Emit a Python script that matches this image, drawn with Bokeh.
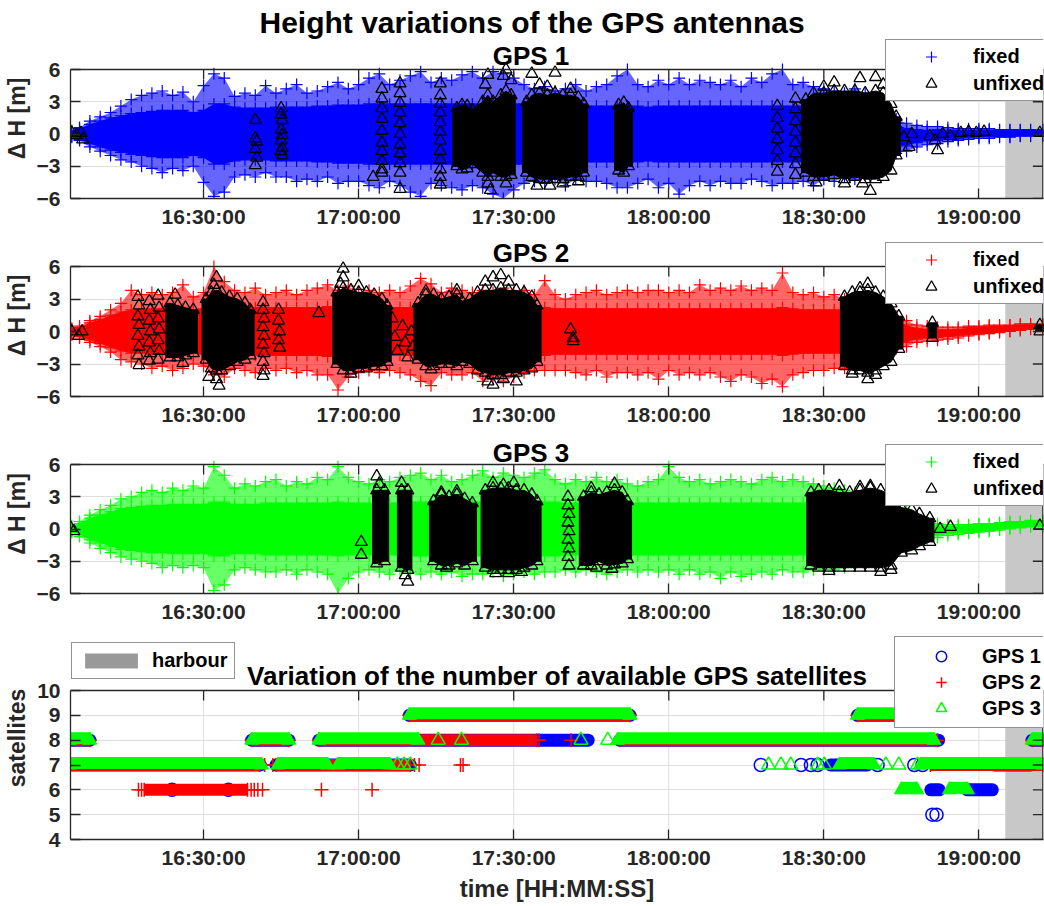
import numpy as np
from bokeh.plotting import figure
from bokeh.layouts import column
from bokeh.models import Range1d, FixedTicker, Title, Legend, LegendItem
from bokeh.core.properties import value
from bokeh.embed import file_html
from bokeh.resources import INLINE

# ---------------------------------------------------------------- data
# time axis: minutes after 16:00:00
X_START, X_END = 4.25, 192.5
HARBOUR_FROM = 185.1
TICK_MIN = [30, 60, 90, 120, 150, 180]
TICK_TXT = ["16:30:00", "17:00:00", "17:30:00", "18:00:00", "18:30:00", "19:00:00"]
H_RANGE = (-6, 6)
H_TICKS = [-6, -3, 0, 3, 6]
S_RANGE = (4, 10)
S_TICKS = [4, 5, 6, 7, 8, 9, 10]

# sample times of the read envelopes of the "fixed" clouds
t_fix = [4.5, 6, 8, 10, 12, 14, 16, 18, 20, 22,
         24, 26, 28, 30, 32, 34, 36, 38, 40, 42,
         44, 46, 48, 50, 52, 54, 56, 58, 60, 62,
         64, 66, 68, 70, 72, 74, 76, 78, 80, 82,
         84, 86, 88, 90, 92, 94, 96, 98, 100, 102,
         104, 106, 108, 110, 112, 114, 116, 118, 120, 122,
         124, 126, 128, 130, 132, 134, 136, 138, 140, 142,
         144, 146, 148, 150, 152, 154, 156, 158, 160, 162,
         164, 166, 168, 170, 172, 174, 176, 178, 180, 182,
         184, 186, 188, 190, 192.4]

# GPS 1 fixed: outer max, outer min, dense half width
g1_hi = [0.3, 0.6, 1.2, 1.6, 2.0, 2.6, 3.2, 3.6, 3.8, 4.0,
         3.6, 3.9, 3.0, 4.5, 5.6, 5.2, 3.5, 3.8, 3.6, 4.5,
         3.8, 4.2, 4.6, 3.8, 4.0, 4.4, 4.8, 4.2, 4.6, 5.2,
         5.6, 4.6, 5.0, 5.4, 5.8, 4.8, 5.2, 5.0, 5.5, 5.8,
         5.2, 5.8, 5.6, 5.2, 4.6, 4.2, 4.4, 4.0, 4.2, 4.6,
         4.0, 4.4, 4.6, 5.4, 6.0, 4.6, 4.4, 5.0, 4.6, 5.2,
         4.6, 5.0, 4.8, 4.6, 5.0, 4.4, 5.2, 4.8, 5.6, 6.0,
         4.6, 4.8, 4.4, 4.2, 4.0, 3.8, 4.2, 3.8, 3.0, 2.0,
         1.4, 1.0, 0.8, 0.7, 0.7, 0.6, 0.5, 0.5, 0.5, 0.5,
         0.4, 0.4, 0.4, 0.4, 0.4]
g1_lo = [-0.3, -0.6, -1.2, -1.6, -2.0, -2.4, -2.6, -3.0, -3.2, -3.6,
         -3.2, -3.4, -3.0, -4.5, -5.8, -5.4, -4.0, -3.8, -4.0, -3.6,
         -4.0, -4.0, -4.4, -4.2, -4.4, -4.0, -4.6, -4.4, -4.4, -4.8,
         -5.0, -4.4, -4.8, -5.4, -5.8, -4.6, -4.8, -5.0, -5.2, -4.8,
         -5.0, -5.6, -6.0, -5.2, -4.6, -4.4, -4.6, -4.2, -4.8, -4.2,
         -4.4, -4.4, -4.6, -5.0, -5.0, -4.6, -4.2, -5.0, -4.6, -5.6,
         -4.8, -4.4, -4.8, -4.4, -4.6, -4.6, -4.2, -4.4, -4.8, -4.6,
         -4.6, -4.4, -4.8, -4.2, -4.4, -4.0, -4.2, -3.8, -3.2, -2.4,
         -1.8, -1.6, -1.2, -1.0, -0.9, -0.7, -0.6, -0.5, -0.4, -0.4,
         -0.3, -0.3, -0.2, -0.2, -0.2]
g1_core = [0.2, 0.5, 0.9, 1.2, 1.5, 1.7, 1.9, 2.0, 2.1, 2.2,
           2.2, 2.2, 2.0, 2.2, 2.8, 2.8, 2.5, 2.4, 2.4, 2.4,
           2.5, 2.5, 2.5, 2.5, 2.6, 2.6, 2.7, 2.7, 2.7, 2.8,
           2.8, 2.8, 2.8, 2.8, 2.8, 2.8, 2.8, 2.8, 2.8, 2.8,
           2.8, 2.8, 2.8, 2.8, 2.8, 2.6, 2.6, 2.6, 2.6, 2.6,
           2.6, 2.6, 2.6, 2.6, 2.6, 2.6, 2.5, 2.6, 2.6, 2.6,
           2.6, 2.6, 2.6, 2.6, 2.6, 2.6, 2.6, 2.6, 2.6, 2.6,
           2.6, 2.6, 2.6, 2.5, 2.5, 2.4, 2.4, 2.2, 2.0, 1.5,
           1.0, 0.8, 0.6, 0.5, 0.5, 0.4, 0.4, 0.35, 0.3, 0.3,
           0.3, 0.3, 0.25, 0.25, 0.25]

g2_hi = [0.3, 0.5, 1.0, 1.4, 2.0, 2.6, 3.8, 3.4, 3.6, 3.4,
         3.6, 4.3, 3.2, 3.6, 6.0, 4.6, 3.8, 3.6, 4.0, 3.4,
         3.6, 3.8, 3.4, 3.8, 4.0, 4.3, 3.8, 4.2, 3.6, 3.8,
         3.6, 3.8, 3.6, 4.2, 4.9, 4.4, 3.6, 4.0, 3.8, 3.6,
         3.8, 3.6, 4.0, 3.6, 3.8, 3.4, 4.7, 3.4, 3.0, 3.4,
         3.6, 3.8, 3.4, 3.6, 3.8, 3.6, 3.8, 3.8, 3.6, 3.8,
         3.6, 4.3, 3.8, 4.0, 3.8, 4.2, 3.8, 4.0, 3.8, 5.4,
         3.6, 3.4, 3.6, 3.2, 3.4, 3.0, 2.8, 2.4, 2.2, 1.8,
         1.4, 1.0, 0.6, 0.5, 0.4, 0.4, 0.4, 0.5, 0.5, 0.6,
         0.6, 0.6, 0.7, 0.7, 0.7]
g2_lo = [-0.3, -0.6, -1.0, -1.4, -1.9, -2.6, -2.8, -3.0, -3.4, -3.2,
         -3.6, -3.4, -3.0, -3.2, -4.0, -4.2, -3.4, -3.6, -3.8, -3.4,
         -3.6, -3.4, -3.8, -3.6, -4.0, -4.0, -5.4, -4.2, -3.8, -3.6,
         -3.8, -3.6, -3.8, -4.0, -4.6, -5.0, -3.8, -4.0, -4.0, -3.8,
         -4.6, -4.4, -4.6, -4.2, -3.8, -3.6, -3.6, -3.6, -3.6, -3.8,
         -4.0, -3.6, -4.2, -3.8, -3.8, -4.0, -3.8, -4.4, -3.6, -4.0,
         -3.8, -4.0, -3.8, -4.2, -4.6, -4.0, -4.2, -4.8, -4.4, -5.1,
         -4.0, -3.8, -3.6, -3.6, -3.4, -3.4, -3.2, -2.8, -2.6, -2.2,
         -1.6, -1.4, -1.0, -0.9, -0.8, -0.7, -0.6, -0.4, -0.3, -0.2,
         -0.1, 0.0, 0.1, 0.2, 0.2]
g2_core = [0.2, 0.4, 0.8, 1.1, 1.5, 1.8, 2.0, 2.0, 2.1, 2.1,
           2.1, 2.1, 2.0, 2.1, 2.3, 2.3, 2.2, 2.2, 2.2, 2.2,
           2.2, 2.2, 2.2, 2.2, 2.2, 2.3, 2.3, 2.3, 2.2, 2.2,
           2.2, 2.2, 2.2, 2.2, 2.3, 2.3, 2.2, 2.2, 2.2, 2.2,
           2.2, 2.2, 2.2, 2.2, 2.2, 2.2, 2.2, 2.1, 2.1, 2.1,
           2.1, 2.1, 2.1, 2.1, 2.1, 2.1, 2.1, 2.1, 2.1, 2.1,
           2.1, 2.1, 2.1, 2.1, 2.1, 2.1, 2.1, 2.1, 2.1, 2.2,
           2.1, 2.0, 2.0, 2.0, 2.0, 1.9, 1.8, 1.7, 1.5, 1.3,
           1.0, 0.8, 0.5, 0.4, 0.35, 0.3, 0.3, 0.3, 0.3, 0.3,
           0.25, 0.25, 0.2, 0.2, 0.2]

g3_hi = [0.3, 0.7, 1.3, 1.8, 2.2, 2.8, 3.0, 3.4, 3.6, 3.4,
         3.8, 3.6, 4.0, 3.8, 5.8, 5.0, 3.8, 4.2, 4.0, 4.4,
         4.6, 4.0, 4.4, 4.2, 4.8, 4.6, 5.8, 4.8, 4.4, 4.2,
         4.6, 4.4, 4.8, 5.0, 5.2, 4.6, 5.0, 4.4, 4.6, 5.0,
         5.4, 4.8, 5.2, 5.0, 4.8, 5.2, 5.5, 4.6, 4.2, 4.6,
         4.4, 4.8, 4.4, 4.6, 4.2, 4.0, 4.4, 4.6, 5.8, 4.8,
         4.4, 4.6, 4.2, 4.4, 4.6, 4.4, 4.2, 4.6, 4.8, 4.4,
         4.6, 4.4, 4.2, 4.0, 3.8, 3.6, 3.4, 3.2, 2.8, 2.4,
         2.0, 1.6, 1.2, 0.8, 0.5, 0.4, 0.4, 0.4, 0.5, 0.5,
         0.6, 0.7, 0.7, 0.8, 0.8]
g3_lo = [-0.3, -0.7, -1.3, -1.8, -2.2, -2.6, -2.8, -3.0, -3.2, -3.6,
         -3.4, -3.6, -3.4, -3.6, -5.7, -5.2, -3.8, -3.6, -3.8, -4.0,
         -4.0, -3.8, -4.2, -3.8, -4.0, -4.2, -6.0, -4.6, -4.0, -3.8,
         -4.0, -4.2, -3.8, -4.0, -4.2, -4.0, -4.2, -4.0, -4.4, -4.2,
         -4.2, -4.0, -4.4, -4.2, -4.0, -4.2, -4.0, -4.0, -3.8, -4.0,
         -3.8, -4.0, -4.2, -4.0, -3.8, -4.0, -3.8, -4.0, -3.8, -4.2,
         -3.8, -4.2, -4.0, -4.6, -4.0, -4.4, -4.2, -4.0, -4.2, -3.8,
         -4.0, -4.0, -3.8, -3.8, -3.8, -3.6, -3.4, -3.2, -3.0, -2.6,
         -2.2, -1.8, -1.4, -1.0, -0.8, -0.6, -0.5, -0.4, -0.3, -0.2,
         -0.1, 0.0, 0.1, 0.2, 0.2]
g3_core = [0.2, 0.5, 1.0, 1.3, 1.6, 1.9, 2.0, 2.1, 2.2, 2.2,
           2.3, 2.3, 2.3, 2.3, 2.5, 2.5, 2.3, 2.3, 2.3, 2.4,
           2.4, 2.4, 2.4, 2.4, 2.4, 2.4, 2.5, 2.4, 2.4, 2.4,
           2.4, 2.4, 2.4, 2.5, 2.5, 2.5, 2.5, 2.5, 2.5, 2.5,
           2.5, 2.5, 2.5, 2.5, 2.5, 2.5, 2.5, 2.5, 2.4, 2.4,
           2.4, 2.4, 2.4, 2.4, 2.4, 2.4, 2.4, 2.4, 2.4, 2.4,
           2.4, 2.4, 2.4, 2.4, 2.4, 2.4, 2.4, 2.4, 2.4, 2.4,
           2.4, 2.4, 2.3, 2.3, 2.2, 2.2, 2.1, 2.0, 1.8, 1.6,
           1.4, 1.1, 0.8, 0.6, 0.4, 0.3, 0.3, 0.3, 0.3, 0.3,
           0.25, 0.25, 0.25, 0.25, 0.25]

# "unfixed" dense clusters: (time, top, bottom)
u1_dense = [(79, 2.4, -3.0), (80, 2.7, -3.3), (81, 2.6, -3.2), (82, 2.2, -2.8),
            (84, 3.0, -3.6), (85, 3.6, -4.0), (86, 3.0, -3.6),
            (87.5, 3.6, -4.0), (88.5, 4.0, -4.0), (89.5, 3.6, -3.8),
            (92.5, 3.0, -3.6), (93.5, 3.6, -4.0), (95, 3.8, -4.2), (96.5, 3.6, -4.2),
            (98, 3.8, -4.2), (99.5, 3.6, -4.2), (101, 3.6, -4.0), (102.5, 3.4, -4.0),
            (103.5, 2.8, -3.6),
            (110.3, 2.7, -3.4), (111.3, 2.9, -3.6), (112.2, 2.4, -3.0),
            (146.5, 3.2, -3.6), (148, 3.8, -4.0), (150, 3.8, -4.0), (152, 4.0, -3.8),
            (154, 4.0, -4.2), (156, 4.0, -4.0), (158, 3.8, -4.2), (160, 4.0, -4.2),
            (161.5, 3.8, -4.0), (163, 2.8, -3.4), (164, 1.6, -2.0)]
# "unfixed" single triangles: (time, value)
u1_single = [(4.5, 0.1), (5.4, -0.1), (6.3, 0.1), (6.6, -0.5),
             (40, 1.3), (40, -0.4), (40.3, -0.7), (40, -1.4), (40.3, -2.2), (40, -2.9),
             (45, 2.4), (45, 1.8), (45.2, 1.3), (45, 0.4), (45.2, -0.1), (45, -0.6),
             (45.2, -1.3), (45, -1.6), (45.2, -2.0),
             (62.8, -4.0),
             (64.5, 4.2), (64.5, 3.3), (64.5, 2.4), (64.5, 1.4), (64.5, 0.3),
             (64.5, -0.8), (64.5, -1.6), (64.5, -2.5), (64.5, -3.3), (64.5, -3.6),
             (68, 4.7), (68, 3.8), (68, 2.9), (68, 2.0), (68, 1.0), (68, 0.0),
             (68, -1.0), (68, -1.8), (68, -2.7), (68, -3.6), (68, -5.1),
             (75.8, 4.7), (75.8, 3.6), (75.8, 2.8), (75.8, 2.0), (75.8, 1.1), (75.8, 0.2),
             (75.8, -0.6), (75.8, -1.6), (75.8, -2.4), (75.8, -3.3), (75.8, -4.0), (75.8, -4.7),
             (84.5, 4.6), (85, 5.5), (85.5, -5.2), (85, -4.6), (88, 5.4), (88.5, 6.0),
             (89.5, 5.0), (88.5, -4.6), (93.5, 5.6), (95, 4.6), (96.5, 4.4), (98, 5.7),
             (94.5, -4.8), (97, -4.8), (99.5, -4.6), (101, 4.2), (102.5, -4.4),
             (148.5, -4.5), (150, 4.4), (152, 4.8), (154, -4.6), (157, 5.2),
             (157.5, -4.6), (159, -5.3), (160, 5.3), (161.5, 4.6),
             (141, 2.6), (141, 1.5), (141, 0.5), (141, -0.5), (141, -1.5), (141, -2.5), (141, -3.5),
             (144.5, 3.3), (144.5, 2.3), (144.5, 1.2), (144.5, 0.2), (144.5, -0.8),
             (144.5, -1.8), (144.5, -2.8), (144.5, -3.8),
             (165.5, -0.3), (166.5, -1.2), (167, 0.0), (170.5, -0.2), (171.5, -0.6),
             (172, -1.5), (173, 0.0), (174.5, -0.2), (176.5, 0.1), (178, 0.2),
             (179.5, 0.1), (181, 0.2), (191.8, 0.1)]

u2_dense = [(23.5, 2.6, -2.4), (25, 2.4, -2.4), (26.5, 2.2, -2.2), (28, 2.0, -2.0),
            (30.5, 3.0, -2.6), (31.5, 3.6, -3.4), (32.5, 3.8, -3.6), (33.5, 3.6, -3.6),
            (35, 3.2, -3.2), (36.5, 3.0, -2.8), (38, 2.6, -2.6), (39, 2.0, -2.2),
            (55.8, 3.6, -3.0), (57, 4.0, -3.6), (58.5, 3.8, -3.6), (60, 3.6, -3.4),
            (61.5, 3.6, -3.4), (63, 3.4, -3.2), (64.5, 3.0, -3.2), (65.5, 2.4, -2.8),
            (71.5, 2.6, -2.6), (73, 3.4, -3.2), (74.5, 3.4, -3.2), (76, 3.0, -3.0),
            (77.5, 3.2, -3.0), (79, 3.4, -3.2), (80, 2.8, -2.8),
            (81.5, 3.0, -3.0), (83, 3.6, -3.6), (84.5, 3.8, -3.8), (86, 3.8, -4.0),
            (87.5, 4.0, -4.0), (89, 3.8, -3.8), (90.5, 3.8, -3.8), (92, 3.6, -3.6),
            (93.5, 3.2, -3.4), (94.5, 2.4, -2.8),
            (154, 3.2, -3.2), (155.5, 3.6, -3.6), (157, 3.6, -3.6), (158.5, 3.8, -3.8),
            (160, 3.6, -3.6), (161.5, 3.2, -3.2), (163, 2.6, -2.8), (164.5, 1.4, -1.6),
            (171, 0.8, -0.6), (191.8, 0.6, 0.0)]
u2_single = [(4.5, 0.0), (5.8, -0.4), (6.5, 0.0),
             (17.3, 3.2), (17.5, 2.4), (17.3, 1.4), (17.5, 0.6), (17.3, -0.4), (17.5, -1.4),
             (17.3, -2.2), (17.5, -3.1),
             (19.5, 2.8), (19.7, 2.0), (19.5, 1.0), (19.7, 0.0), (19.5, -1.0), (19.7, -2.0),
             (19.5, -2.7),
             (21.2, 3.3), (21.4, 2.2), (21.2, 1.2), (21.4, 0.2), (21.2, -0.8), (21.4, -1.8),
             (21.2, -2.6),
             (24.5, 3.4), (26, -2.9),
             (32.5, 5.0), (32, 4.3), (33, -5.0), (32.5, -4.4), (31, -4.2),
             (41.5, 2.7), (41.5, 2.0), (41.7, 1.2), (41.5, 0.4), (41.7, -0.4),
             (41.5, -1.2), (41.7, -2.0), (41.5, -2.8), (41.7, -3.6), (41.5, -4.1),
             (44.5, 2.0), (44.5, 1.0), (44.7, 0.0), (44.5, -0.8), (44.7, -1.5),
             (52.3, 1.7),
             (57, 5.8), (57, 5.0), (56.5, 4.4), (58.5, -3.9), (60, 4.2),
             (66.5, 1.2), (67, -0.5), (67.5, -1.8), (68.5, 0.5), (69, -1.0),
             (69.5, -2.4), (70.2, 0.0), (70.5, -1.4),
             (73, 3.7), (79, 3.8), (74, -3.5),
             (84.5, 4.6), (86, 5.0), (87.5, 5.2), (89, 4.6), (86, -4.9), (88, -4.4),
             (90.5, -4.6), (85, -4.6),
             (101, 0.2), (101.5, -0.6), (101.5, -0.9),
             (158.5, 4.4), (157, 4.0), (158.5, -4.4), (160, -4.0), (155.5, -3.9)]

u3_dense = [(63.5, 3.6, -3.2), (65, 3.6, -3.0),
            (68.3, 3.6, -3.6), (69.5, 3.6, -3.8),
            (74.5, 2.6, -3.0), (76, 3.2, -3.4), (77.5, 3.0, -3.4), (79, 3.2, -3.2),
            (80.5, 2.8, -3.4), (82, 2.4, -3.0),
            (84.5, 3.6, -3.6), (86, 3.8, -3.8), (87.5, 3.8, -3.8), (89, 3.8, -3.8),
            (90.5, 3.6, -3.8), (92, 3.6, -3.6), (93.5, 3.2, -3.4), (94.5, 2.6, -3.0),
            (103.5, 3.0, -3.4), (105, 3.4, -3.4), (106.5, 3.2, -3.0), (108, 3.4, -3.4),
            (109.5, 3.6, -3.3), (111, 3.4, -3.2), (112, 2.6, -2.8),
            (147.5, 3.4, -3.4), (149, 3.6, -3.6), (151, 3.6, -3.6), (153, 3.4, -3.6),
            (155, 3.4, -3.6), (157, 3.6, -3.6), (159, 3.8, -3.6), (161, 3.6, -3.6),
            (163, 3.2, -3.4), (165, 2.0, -2.2), (167, 1.8, -2.0), (168.5, 1.4, -1.6),
            (170.5, 1.0, -1.2)]
u3_single = [(4.3, 0.1), (4.9, -0.2),
             (60.5, -1.2), (60.5, -2.4),
             (63.5, 4.9), (64, 4.2), (68.3, 4.3), (69.5, -4.9), (69, -4.3),
             (76, 3.4), (79, 3.5), (77, -3.6),
             (86, 4.3), (88, 4.1), (90, 4.3), (86.5, -4.1), (89, -4.1), (91.5, -4.0),
             (100.5, 3.0), (100.5, 2.2), (100.7, 1.4), (100.5, 0.6), (100.7, -0.2),
             (100.5, -1.0), (100.7, -1.8), (100.5, -2.6), (100.7, -3.4),
             (109.5, 4.2), (105, 3.8), (106, -3.6), (109, -3.7),
             (153, 4.0), (157, 3.9), (159, 4.0), (151, -3.9), (161, -4.0), (163, -3.8),
             (172.5, 0.0), (174.5, 0.2), (191.8, 0.3)]

# satellites: continuous runs (count, from, to) and single epochs (time, count)
sat1_runs = [(8, 4.0, 8.0), (7, 4.0, 41.0), (8, 39.3, 46.5), (7, 44.0, 70.0),
             (9, 69.8, 112.5), (8, 52.3, 104.4), (8, 110.5, 172.2), (7, 151.3, 158.4),
             (9, 156.5, 170.0), (6, 170.7, 172.3), (6, 177.8, 182.6), (7, 183.0, 190.0),
             (8, 190.3, 192.4)]
sat1_single = [(23.9, 6), (34.8, 6), (137.8, 7), (145.6, 7), (147.5, 7), (148.8, 7),
               (160.4, 7), (167.5, 7), (169.1, 7), (171.0, 5), (171.8, 5)]
sat2_runs = [(8, 4.0, 8.0), (7, 4.0, 40.8), (6, 18.5, 38.5), (8, 39.3, 46.5),
             (7, 44.0, 70.0), (9, 69.8, 112.5), (8, 52.3, 94.4), (8, 110.5, 172.0),
             (9, 156.5, 170.0), (7, 170.6, 192.4), (8, 190.3, 192.4)]
sat2_single = [(17.4, 6), (18.0, 6), (39.2, 6), (39.8, 6), (40.5, 6), (41.4, 6),
               (41.8, 7), (43.4, 7), (52.8, 6), (62.6, 6), (70.8, 7), (71.7, 7),
               (79.7, 7), (80.2, 7), (94.9, 8), (101.1, 8)]
sat3_runs = [(8, 4.0, 8.0), (7, 4.0, 41.2), (8, 39.3, 46.5), (7, 44.4, 54.0),
             (7, 56.0, 66.0), (8, 52.3, 71.5), (9, 69.8, 112.5), (8, 110.1, 171.3),
             (7, 153.0, 159.7), (9, 156.5, 170.0), (6, 165.0, 168.0), (6, 174.3, 177.8),
             (7, 168.7, 192.4), (8, 190.3, 192.4)]
sat3_single = [(67.5, 7), (68.8, 7), (70.0, 7), (75.4, 8), (79.9, 8), (103.0, 8),
               (108.2, 8), (139.3, 7), (141.7, 7), (143.6, 7), (148.8, 7), (150.1, 7),
               (162.0, 7), (164.5, 7), (168.1, 7)]

# ---------------------------------------------------------------- style
FONT = "Liberation Sans"
INK = "#262626"
GRID = "#dfdfdf"
BLUE, RED, GREEN = "#0000ff", "#ff0000", "#00ff00"
HARBOUR_FILL = "#c8c8c8"
HARBOUR_LEGEND = "#999999"
FRAME_W = 974
PPX = FRAME_W / (X_END - X_START)          # pixels per minute


def arr(v):
    return np.asarray(v, dtype=float)


def base_fig(h, frame_top, bottom, box, box_px, extra_px, yticks, ylabel, label_standoff=6):
    lo, hi = box
    ppu = box_px / (hi - lo)
    p = figure(width=1044, height=h, x_range=Range1d(X_START, X_END),
               y_range=Range1d(lo, hi + extra_px / ppu),
               output_backend="svg", toolbar_location=None,
               min_border_left=69, min_border_right=1,
               min_border_top=frame_top, min_border_bottom=bottom)
    p.background_fill_color = "white"
    p.border_fill_color = "white"
    p.outline_line_color = None
    xa, ya = p.xaxis[0], p.yaxis[0]
    xa.ticker = FixedTicker(ticks=TICK_MIN)
    xa.major_label_overrides = {k: v for k, v in zip(TICK_MIN, TICK_TXT)}
    ya.ticker = FixedTicker(ticks=yticks)
    ya.bounds = (lo, hi)
    for ax in (xa, ya):
        ax.major_tick_in = 10
        ax.major_tick_out = 0
        ax.minor_tick_in = 0
        ax.minor_tick_out = 0
        ax.major_tick_line_color = INK
        ax.major_tick_line_width = 1.3
        ax.axis_line_color = INK
        ax.axis_line_width = 1.3
        ax.major_label_text_font = FONT
        ax.major_label_text_font_size = "21px"
        ax.major_label_text_font_style = "bold"
        ax.major_label_text_color = INK
    xa.major_label_standoff = label_standoff
    ya.major_label_standoff = 10
    ya.axis_label = ylabel
    ya.axis_label_text_font = FONT
    ya.axis_label_text_font_size = "23px"
    ya.axis_label_text_font_style = "bold"
    ya.axis_label_text_color = INK
    ya.axis_label_standoff = 4
    p.xgrid.visible = False
    p.ygrid.ticker = FixedTicker(ticks=yticks)
    p.ygrid.grid_line_color = GRID
    p.ygrid.grid_line_width = 1
    # vertical grid lines limited to the axes box
    gx = arr(TICK_MIN)
    p.segment(x0=gx, y0=np.full(gx.size, lo), x1=gx, y1=np.full(gx.size, hi),
              line_color=GRID, line_width=1)
    # harbour shading
    p.quad(left=[HARBOUR_FROM], right=[X_END], bottom=[lo], top=[hi],
           fill_color=HARBOUR_FILL, line_color=None)
    p._box = (lo, hi, ppu)
    return p


def finish_box(p, yticks):
    """top/right border lines and mirrored inward ticks (MATLAB box)."""
    lo, hi, ppu = p._box
    tick_x = 10 / PPX
    tick_y = 10 / ppu
    edge = X_END - 0.65 / PPX
    p.segment(x0=[X_START, edge], y0=[hi, lo], x1=[X_END, edge], y1=[hi, hi],
              line_color=INK, line_width=1.3)
    gx = arr(TICK_MIN)
    p.segment(x0=gx, y0=np.full(gx.size, hi), x1=gx, y1=np.full(gx.size, hi - tick_y),
              line_color=INK, line_width=1.3)
    gy = arr(yticks)
    p.segment(x0=np.full(gy.size, edge), y0=gy, x1=np.full(gy.size, edge - tick_x), y1=gy,
              line_color=INK, line_width=1.3)


def in_box_title(p, text, px_from_left, px_above_box, size):
    lo, hi, ppu = p._box
    x = X_START + px_from_left / PPX
    p.text(x=[x], y=[hi + (px_above_box + 8) / ppu], text=[text], text_font=value(FONT),
           text_font_size=size, text_font_style="bold", text_color="black",
           text_align="center", text_baseline="alphabetic")


def legend(items, loc, pad, gw, gh, standoff):
    return Legend(items=items, location=loc, orientation="vertical", margin=0,
                  padding=pad, spacing=0, glyph_width=gw, glyph_height=gh,
                  label_standoff=standoff, label_height=20,
                  label_text_font=FONT, label_text_font_size="20px",
                  label_text_font_style="bold", label_text_color="black",
                  border_line_color=INK, border_line_width=1.2,
                  background_fill_color="white", background_fill_alpha=1.0)


def cluster_outlines(dense, gap=2.05, pad=0.8):
    """group read dense columns into blobs and return patch outlines."""
    xs, ys, cur = [], [], [dense[0]]

    def flush(group):
        ts, tops, bots = (list(v) for v in zip(*group))
        x = [ts[0] - pad] + ts + [ts[-1] + pad]
        top = [tops[0]] + tops + [tops[-1]]
        bot = [bots[0]] + bots + [bots[-1]]
        xs.append(x + x[::-1])
        ys.append(top + bot[::-1])

    for row in dense[1:]:
        if row[0] - cur[-1][0] <= gap:
            cur.append(row)
        else:
            flush(cur)
            cur = [row]
    flush(cur)
    return xs, ys


def height_panel(h, frame_top, box_px, extra_px, name, title_gap, color, hi, lo, core,
                 dense, single, leg_y, main=None):
    p = base_fig(h, frame_top, 34, H_RANGE, box_px, extra_px, H_TICKS, "\u0394 H [m]",
                 label_standoff=6)
    n = min(len(t_fix), len(hi), len(lo), len(core))
    t, hi, lo, core = arr(t_fix[:n]), arr(hi[:n]), arr(lo[:n]), arr(core[:n])
    centre = np.where(hi - lo < 3.0, (hi + lo) / 2.0, 0.0)
    # scattered outer part of the fixed cloud and its dense core
    p.varea(x=t, y1=lo, y2=hi, fill_color=color, fill_alpha=0.6)
    p.varea(x=t, y1=centre - core, y2=centre + core, fill_color=color, fill_alpha=1.0)
    r_fix = p.scatter(np.concatenate([t, t, t, t]),
                      np.concatenate([hi, lo, centre + core, centre - core]),
                      marker="cross", size=12, line_color=color, line_width=1.2)
    bx, by = cluster_outlines(dense)
    p.patches(xs=bx, ys=by, fill_color="black", line_color="black", line_width=1)
    ut, utop, ubot = (arr(v) for v in zip(*dense))
    st, sy = (arr(v) for v in zip(*single))
    r_unf = p.scatter(np.concatenate([ut, ut, st]), np.concatenate([utop, ubot, sy]),
                      marker="triangle", size=12, fill_color=None,
                      line_color="black", line_width=1.3)
    finish_box(p, H_TICKS)
    in_box_title(p, name, 461, title_gap, "26px")
    if main:
        p.add_layout(Title(text=main, align="left", offset=189, standoff=0,
                           text_font=FONT, text_font_size="30px",
                           text_font_style="bold", text_color="black"), "above")
    p.add_layout(legend([LegendItem(label="fixed", renderers=[r_fix]),
                         LegendItem(label="unfixed", renderers=[r_unf])],
                        (815, leg_y), 3, 84, 27, 0))
    return p


p1 = height_panel(232, 38, 129, 31, "GPS 1", 6, BLUE, g1_hi, g1_lo, g1_core,
                  u1_dense, u1_single, 97, main="Height variations of the GPS antennas")
p2 = height_panel(198, 2, 130, 32, "GPS 2", 6, RED, g2_hi, g2_lo, g2_core,
                  u2_dense, u2_single, 92)
p3 = height_panel(197, 4, 129, 30, "GPS 3", 4, GREEN, g3_hi, g3_lo, g3_core,
                  u3_dense, u3_single, 87)

# ---------------------------------------------------------------- satellites panel
p4 = base_fig(279, 9, 67, S_RANGE, 149, 54, S_TICKS, "satellites", label_standoff=6)
xa = p4.below[0]
xa.axis_label = "time [HH:MM:SS]"
xa.axis_label_text_font = FONT
xa.axis_label_text_font_size = "24px"
xa.axis_label_text_font_style = "bold"
xa.axis_label_text_color = INK
xa.axis_label_standoff = 3

lo4, hi4, px_per_unit = p4._box
# zero-width patch that only serves as the legend key of the harbour shading
harbour_key = p4.quad(left=[HARBOUR_FROM], right=[HARBOUR_FROM], bottom=[lo4], top=[hi4],
                      fill_color=HARBOUR_LEGEND, line_color=None)

# GPS 1: circles
v, a, b = (arr(x) for x in zip(*sat1_runs))
p4.segment(x0=a, y0=v, x1=b, y1=v, line_color=BLUE, line_width=13, line_cap="round")
st, sv = (arr(x) for x in zip(*sat1_single))
r1 = p4.scatter(st, sv, marker="circle", size=13, fill_color=None, line_color=BLUE,
                line_width=1.5)
# GPS 2: crosses
v, a, b = (arr(x) for x in zip(*sat2_runs))
p4.segment(x0=a, y0=v, x1=b, y1=v, line_color=RED, line_width=12)
p4.scatter(np.concatenate([a, b]), np.concatenate([v, v]), marker="cross", size=14,
           line_color=RED, line_width=1.5)
st, sv = (arr(x) for x in zip(*sat2_single))
r2 = p4.scatter(st, sv, marker="cross", size=14, line_color=RED, line_width=1.5)
# GPS 3: triangles
v, a, b = (arr(x) for x in zip(*sat3_runs))
lift = 2.0 / px_per_unit
p4.segment(x0=a, y0=v + lift, x1=b, y1=v + lift, line_color=GREEN, line_width=12)
p4.scatter(np.concatenate([a, b]), np.concatenate([v, v]), marker="triangle", size=14,
           fill_color=GREEN, line_color=GREEN, line_width=1)
st, sv = (arr(x) for x in zip(*sat3_single))
r3 = p4.scatter(st, sv, marker="triangle", size=14, fill_color=None, line_color=GREEN,
                line_width=1.5)
finish_box(p4, S_TICKS)
in_box_title(p4, "Variation of the number of available GPS satellites", 487, 7, "26px")

p4.add_layout(legend([LegendItem(label="GPS 1", renderers=[r1]),
                      LegendItem(label="GPS 2", renderers=[r2]),
                      LegendItem(label="GPS 3", renderers=[r3])],
                     (824, 111), 6, 80, 26, 1))
p4.add_layout(legend([LegendItem(label="harbour", renderers=[harbour_key])],
                     (1, 160), 6, 66, 19, 8))

layout = column(p1, p2, p3, p4, spacing=0)
html = file_html(layout, INLINE, title="Height variations of the GPS antennas")
html = html.replace("<head>", "<head><style>html,body{margin:0;padding:0;}</style>", 1)
open("out.html", "w").write(html)
